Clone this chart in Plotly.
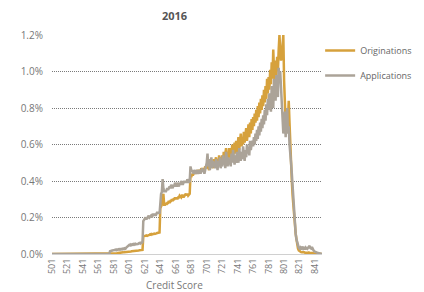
import plotly.graph_objects as go

scores = list(range(501, 851))

originations = (
    [0.0] * 80 +
    [0.0, 0.0, 0.002, 0.003, 0.004, 0.005, 0.005, 0.006, 0.006, 0.007] +
    [0.008, 0.008, 0.009, 0.010, 0.010, 0.011, 0.010, 0.012, 0.012, 0.013] +
    [0.013, 0.014, 0.014, 0.015, 0.015, 0.016, 0.015, 0.017, 0.017, 0.018] +
    [0.018, 0.019, 0.019, 0.020, 0.020, 0.021, 0.021, 0.022] +
    [0.095, 0.098, 0.097, 0.100, 0.102, 0.099, 0.104, 0.103, 0.105, 0.108, 0.106, 0.110] +
    [0.108, 0.111, 0.112, 0.110, 0.114, 0.113, 0.115, 0.117, 0.116, 0.118] +
    [0.25, 0.26, 0.27, 0.31, 0.33, 0.27, 0.27, 0.28, 0.27, 0.28] +
    [0.28, 0.29, 0.28, 0.29, 0.29, 0.30, 0.29, 0.30, 0.30, 0.31] +
    [0.30, 0.31, 0.30, 0.31, 0.31, 0.32, 0.31, 0.31, 0.32, 0.32] +
    [0.31, 0.32, 0.32, 0.33, 0.32, 0.33, 0.32, 0.33, 0.33] +
    [0.43, 0.42, 0.44, 0.43, 0.44, 0.45, 0.44, 0.45, 0.44, 0.46, 0.45] +
    [0.45, 0.46, 0.45, 0.47, 0.46, 0.46, 0.47, 0.46, 0.48, 0.47] +
    [0.47, 0.49, 0.48, 0.46, 0.50, 0.48, 0.51, 0.49, 0.47, 0.52] +
    [0.49, 0.51, 0.53, 0.49, 0.52, 0.48, 0.54, 0.50, 0.53, 0.51] +
    [0.54, 0.50, 0.56, 0.52, 0.55, 0.58, 0.52, 0.56, 0.51, 0.58] +
    [0.53, 0.58, 0.55, 0.60, 0.53, 0.58, 0.61, 0.55, 0.62, 0.56] +
    [0.59, 0.64, 0.57, 0.62, 0.66, 0.59, 0.64, 0.60, 0.67, 0.61] +
    [0.65, 0.69, 0.62, 0.67, 0.71, 0.64, 0.72, 0.66, 0.74, 0.68] +
    [0.75, 0.70, 0.77, 0.72, 0.79, 0.73, 0.81, 0.75, 0.83, 0.77] +
    [0.85, 0.79, 0.87, 0.81, 0.90, 0.83, 0.92, 0.85, 0.96, 0.88] +
    [0.97, 0.90, 1.01, 0.93, 1.05, 0.96, 1.12, 1.00, 0.94, 1.06] +
    [0.98, 1.08, 1.00, 1.12, 1.20, 1.12, 1.06, 1.08, 1.16, 1.20] +
    [0.95, 0.76, 0.72, 0.78, 0.70, 0.74, 0.84, 0.72, 0.58, 0.48] +
    [0.40, 0.32, 0.26, 0.20, 0.15, 0.11, 0.08, 0.05, 0.03, 0.02] +
    [0.015, 0.012, 0.010, 0.009, 0.010, 0.008, 0.009, 0.007, 0.008, 0.006] +
    [0.007, 0.006, 0.008, 0.005, 0.006, 0.005, 0.004, 0.005, 0.004, 0.003] +
    [0.003, 0.002, 0.003, 0.002, 0.002, 0.001, 0.001, 0.001, 0.0, 0.0]
)

applications = (
    [0.0] * 75 +
    [0.015, 0.018, 0.020, 0.019, 0.021] +
    [0.020, 0.022, 0.024, 0.021, 0.025, 0.023, 0.026, 0.024, 0.027, 0.025] +
    [0.028, 0.026, 0.030, 0.027, 0.031, 0.029, 0.035, 0.040, 0.045, 0.048] +
    [0.050, 0.047, 0.052, 0.049, 0.053, 0.051, 0.055, 0.052, 0.056, 0.054] +
    [0.057, 0.055, 0.058, 0.060, 0.057, 0.062, 0.060, 0.065] +
    [0.18, 0.19, 0.19, 0.20, 0.19, 0.20, 0.20, 0.21, 0.20, 0.21, 0.21, 0.20] +
    [0.21, 0.22, 0.21, 0.22, 0.21, 0.22, 0.23, 0.22, 0.23, 0.22] +
    [0.32, 0.33, 0.34, 0.41, 0.36, 0.34, 0.35, 0.34, 0.35, 0.36] +
    [0.35, 0.36, 0.37, 0.36, 0.38, 0.37, 0.36, 0.38, 0.37, 0.39] +
    [0.38, 0.37, 0.39, 0.38, 0.37, 0.39, 0.38, 0.40, 0.39, 0.38] +
    [0.39, 0.40, 0.39, 0.40, 0.39, 0.41, 0.40, 0.39, 0.40] +
    [0.48, 0.46, 0.45, 0.46, 0.44, 0.45, 0.46, 0.44, 0.45, 0.46, 0.44] +
    [0.45, 0.46, 0.44, 0.45, 0.47, 0.45, 0.46, 0.44, 0.46, 0.47] +
    [0.50, 0.55, 0.48, 0.52, 0.46, 0.49, 0.53, 0.47, 0.51, 0.48] +
    [0.50, 0.47, 0.52, 0.49, 0.46, 0.51, 0.48, 0.53, 0.47, 0.50] +
    [0.48, 0.54, 0.49, 0.51, 0.47, 0.56, 0.50, 0.48, 0.53, 0.49] +
    [0.52, 0.48, 0.55, 0.50, 0.57, 0.51, 0.49, 0.54, 0.50, 0.56] +
    [0.52, 0.50, 0.58, 0.53, 0.51, 0.56, 0.52, 0.59, 0.54, 0.51] +
    [0.57, 0.53, 0.60, 0.55, 0.58, 0.54, 0.62, 0.57, 0.60, 0.62] +
    [0.59, 0.64, 0.60, 0.66, 0.62, 0.68, 0.63, 0.70, 0.65, 0.72] +
    [0.67, 0.74, 0.69, 0.76, 0.71, 0.79, 0.73, 0.82, 0.76, 0.85] +
    [0.79, 0.88, 0.82, 0.78, 0.92, 0.85, 0.80, 0.96, 0.88, 0.84] +
    [0.98, 0.90, 0.86, 1.02, 0.94, 1.00, 0.92, 0.86, 0.75, 0.66] +
    [0.70, 0.78, 0.64, 0.72, 0.80, 0.66, 0.70, 0.60, 0.56, 0.50] +
    [0.44, 0.36, 0.28, 0.21, 0.16, 0.11, 0.08, 0.06, 0.045, 0.035] +
    [0.030, 0.035, 0.025, 0.030, 0.040, 0.028, 0.032, 0.025, 0.035, 0.030] +
    [0.028, 0.035, 0.040, 0.045, 0.032, 0.030, 0.038, 0.025, 0.020, 0.015] +
    [0.012, 0.010, 0.008, 0.006, 0.005, 0.004, 0.003, 0.002, 0.001, 0.0]
)

x_ticks = list(range(501, 851, 20))
y_ticks = [0.0, 0.2, 0.4, 0.6, 0.8, 1.0, 1.2]

GOLD = "#D6A13C"
GRAY = "#ABA398"
FONT = "Open Sans"

# The page body has an 8px default margin, so the figure is sized to fit the
# 424x292 window after that offset.
FIG_W, FIG_H = 416, 284
M_L, M_T, M_B = 44, 27, 38
plot_w = FIG_W - M_L
plot_h = FIG_H - M_T - M_B
dom_right = 270 / plot_w

fig = go.Figure()
fig.add_trace(go.Scatter(x=scores, y=originations, mode="lines", name="Originations",
                         line=dict(color=GOLD, width=2.5), legendgroup="o"))
fig.add_trace(go.Scatter(x=scores, y=applications, mode="lines", name="Applications",
                         line=dict(color=GRAY, width=2.5), legendgroup="a"))

fig.update_layout(
    width=FIG_W, height=FIG_H,
    margin=dict(l=M_L, r=0, t=M_T, b=M_B, pad=0, autoexpand=False),
    paper_bgcolor="white", plot_bgcolor="white",
    font=dict(family=FONT, size=10, color="#777777"),
    showlegend=True,
    legend=dict(x=dom_right - 0.005, y=0.995, xanchor="left", yanchor="top",
                font=dict(size=9, color="#666666"), tracegroupgap=6,
                itemwidth=30, bgcolor="rgba(0,0,0,0)"),
    annotations=[
        dict(text="<b>2016</b>", x=(166 - M_L) / plot_w, y=(FIG_H - M_B - 8) / plot_h,
             xref="paper", yref="paper", xanchor="center", yanchor="middle",
             showarrow=False, font=dict(size=11, color="#555555", family=FONT)),
        dict(text="Credit Score", x=(166 - M_L) / plot_w, y=(FIG_H - M_B - 277) / plot_h,
             xref="paper", yref="paper", xanchor="center", yanchor="middle",
             showarrow=False, font=dict(size=10, color="#777777", family=FONT)),
    ],
)

fig.update_xaxes(domain=[0, dom_right], range=[501, 850], tickvals=x_ticks,
                 ticktext=[str(v) for v in x_ticks],
                 tickangle=-90, showgrid=False, zeroline=False, automargin=False,
                 showline=True, linecolor="#d0d0d0", linewidth=1,
                 tickfont=dict(size=9, color="#777777"))
fig.update_yaxes(range=[0, 1.2], tickvals=y_ticks, ticktext=[f"{v:.1f}%" for v in y_ticks],
                 showgrid=True, gridcolor="#7a7a7a", griddash="1px,1px", gridwidth=1,
                 zeroline=False, showline=False, ticks="", automargin=False,
                 ticklabelstandoff=8,
                 tickfont=dict(size=10, color="#777777"))

fig.write_html("out.html")
